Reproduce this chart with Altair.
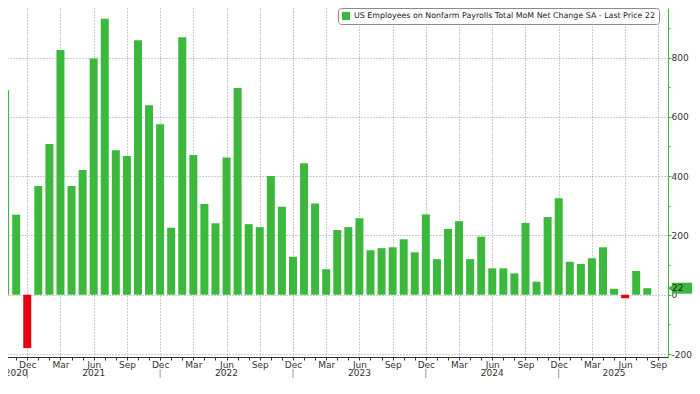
import altair as alt
import pandas as pd

# ---- data ----
months = [
    "2020-10", "2020-11", "2020-12",
    "2021-01", "2021-02", "2021-03", "2021-04", "2021-05", "2021-06",
    "2021-07", "2021-08", "2021-09", "2021-10", "2021-11", "2021-12",
    "2022-01", "2022-02", "2022-03", "2022-04", "2022-05", "2022-06",
    "2022-07", "2022-08", "2022-09", "2022-10", "2022-11", "2022-12",
    "2023-01", "2023-02", "2023-03", "2023-04", "2023-05", "2023-06",
    "2023-07", "2023-08", "2023-09", "2023-10", "2023-11", "2023-12",
    "2024-01", "2024-02", "2024-03", "2024-04", "2024-05", "2024-06",
    "2024-07", "2024-08", "2024-09", "2024-10", "2024-11", "2024-12",
    "2025-01", "2025-02", "2025-03", "2025-04", "2025-05", "2025-06",
    "2025-07", "2025-08",
]
values = [
    690, 270, -180,
    367, 508, 825, 367, 421, 797, 931, 487, 468, 858, 639, 575,
    226, 868, 471, 306, 241, 463, 697, 238, 228, 400, 297, 128,
    443, 308, 86, 218, 228, 258, 150, 157, 160, 187, 143, 271,
    120, 222, 248, 120, 196, 89, 89, 72, 242, 44, 262, 325,
    111, 104, 123, 160, 20, -12, 80, 22,
]
series_name = "US Employees on Nonfarm Payrolls Total MoM Net Change SA - Last Price 22"
last_price = 22
month_names = ["Jan", "Feb", "Mar", "Apr", "May", "Jun",
               "Jul", "Aug", "Sep", "Oct", "Nov", "Dec"]

GREEN = "#3cb83c"
RED = "#e60012"
TXT = "#333333"
FONT = "DejaVu Sans"

# ---- tables ----
df = pd.DataFrame({"month": months, "value": values})
df["i"] = range(len(df))
df["series"] = [series_name if v >= 0 else "neg" for v in values]

n_axis = len(months) + 1  # axis runs through Sep 2025
first_year = int(months[0][:4])
first_mon = int(months[0][5:7]) - 1


def idx(year, mon0):
    return (year - first_year) * 12 + mon0 - first_mon


years = sorted({int(m[:4]) for m in months})
yl_rows, sep_rows = [], []
for y in years:
    lo = max(idx(y, 0), 0)
    hi = min(idx(y, 11), n_axis - 1)
    pos = idx(y, 5) if (lo == idx(y, 0) and hi == idx(y, 11)) else (lo + hi) / 2
    yl_rows.append({"i": pos, "label": str(y)})
    if 0 <= idx(y, 11) <= n_axis - 1:
        sep_rows.append({"i": idx(y, 11)})
years_df = pd.DataFrame(yl_rows)
sep_df = pd.DataFrame(sep_rows)
last_df = pd.DataFrame({"value": [last_price], "label": [str(last_price)]})

mon_js = "[" + ",".join("'%s'" % m for m in month_names) + "]"
quarter_test = "datum.value %% 3 == %d" % ((11 - first_mon) % 3)

x_scale = alt.Scale(domain=[-0.01, 59.42], nice=False, zero=False)
y_scale = alt.Scale(domain=[-210, 967], nice=False, zero=False)

x_axis = alt.Axis(
    values=list(range(n_axis)),
    labelExpr="(%s) ? %s[(datum.value + %d) %% 12] : ''" % (quarter_test, mon_js, first_mon),
    title=None,
    grid=True,
    gridColor="#9a9a9a",
    gridDash=[1, 2],
    gridOpacity={"condition": {"test": quarter_test, "value": 1}, "value": 0},
    domainColor=TXT,
    tickColor=TXT,
    tickSize=3,
    labelColor=TXT,
    labelFont=FONT,
    labelFontSize=9,
    labelPadding=0,
    labelOverlap=False,
    labelBound=False,
)
y_axis = alt.Axis(
    orient="right",
    values=list(range(-200, 1001, 100)),
    labelExpr="datum.value % 200 == 0 ? toString(datum.value) : ''",
    title=None,
    grid=True,
    gridColor="#9a9a9a",
    gridDash=[1, 2],
    gridOpacity={"condition": {"test": "datum.value % 200 == 0", "value": 1}, "value": 0},
    domainColor=GREEN,
    tickColor=GREEN,
    tickSize={"condition": {"test": "datum.value % 200 == 0", "value": 3}, "value": 2},
    labelColor=TXT,
    labelFont=FONT,
    labelFontSize=9,
    labelPadding=0,
    labelOverlap=False,
)

bars = alt.Chart(df).mark_bar(size=8).encode(
    x=alt.X("i:Q", scale=x_scale, axis=x_axis),
    y=alt.Y("value:Q", scale=y_scale, axis=y_axis),
    color=alt.Color(
        "series:N",
        scale=alt.Scale(domain=[series_name, "neg"], range=[GREEN, RED]),
        legend=alt.Legend(
            values=[series_name],
            title=None,
            orient="none",
            legendX=338,
            legendY=0,
            fillColor="white",
            strokeColor="#8a8a8a",
            cornerRadius=3,
            padding=4,
            symbolType="square",
            symbolSize=64,
            symbolStrokeWidth=0,
            labelFont=FONT,
            labelFontSize=7.9,
            labelColor="#222222",
            labelLimit=0,
        ),
    ),
)

year_text = alt.Chart(years_df).mark_text(
    font=FONT, fontSize=9, color=TXT, baseline="middle"
).encode(
    x=alt.X("i:Q", scale=x_scale, axis=None),
    y=alt.value(365),
    text="label:N",
)

year_sep = alt.Chart(sep_df).mark_rule(color="#9a9a9a", strokeWidth=1).encode(
    x=alt.X("i:Q", scale=x_scale, axis=None),
    y=alt.value(361),
    y2=alt.value(372),
)

last_bar = alt.Chart(last_df).mark_rule(color=GREEN, strokeWidth=11, strokeCap="butt").encode(
    y=alt.Y("value:Q", scale=y_scale, axis=None),
    x=alt.value(672),
    x2=alt.value(692),
)
last_tri = alt.Chart(last_df).mark_point(
    shape="triangle-left", filled=True, color=GREEN, opacity=1, size=70
).encode(
    y=alt.Y("value:Q", scale=y_scale, axis=None),
    x=alt.value(671),
)
last_txt = alt.Chart(last_df).mark_text(
    font=FONT, fontSize=9, color="#222222", align="left", baseline="middle"
).encode(
    y=alt.Y("value:Q", scale=y_scale, axis=None),
    x=alt.value(672),
    text="label:N",
)

chart = alt.layer(bars, year_sep, year_text, last_bar, last_tri, last_txt).resolve_axis(
    x="independent", y="independent"
).properties(
    width=668,
    height=349,
    autosize=alt.AutoSizeParams(type="none"),
    padding={"left": -8, "top": 0, "right": 24, "bottom": 21},
    background="white",
).configure_view(stroke=None)

chart.save("out.html", embed_options={"renderer": "svg", "actions": False})
